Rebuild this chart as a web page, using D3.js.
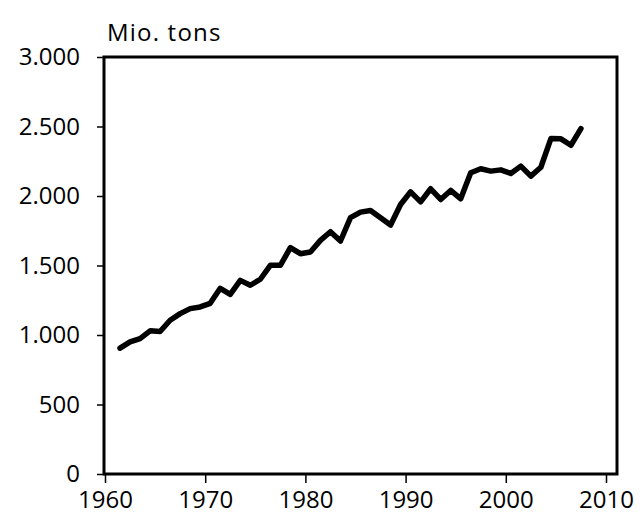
<!DOCTYPE html>
<html>
<head>
<meta charset="utf-8">
<script src="https://cdn.jsdelivr.net/npm/d3@7"></script>
<style>
  body { margin: 0; background: #fff; }
  svg text { font-family: "Open Sans", "Noto Sans", sans-serif; fill: #000; }
</style>
</head>
<body>
<div id="chart"></div>
<script>
// production, Mio. tons, 1961 to 2007
var years = [1961, 1962, 1963, 1964, 1965, 1966, 1967, 1968, 1969, 1970,
             1971, 1972, 1973, 1974, 1975, 1976, 1977, 1978, 1979, 1980,
             1981, 1982, 1983, 1984, 1985, 1986, 1987, 1988, 1989, 1990,
             1991, 1992, 1993, 1994, 1995, 1996, 1997, 1998, 1999, 2000,
             2001, 2002, 2003, 2004, 2005, 2006, 2007];
var values = [905, 950, 974, 1030, 1025, 1106, 1154, 1190, 1202, 1228,
              1336, 1293, 1393, 1358, 1401, 1501, 1501, 1628, 1585, 1597,
              1681, 1743, 1676, 1844, 1884, 1896, 1844, 1791, 1939, 2030,
              1958, 2052, 1975, 2040, 1980, 2167, 2196, 2179, 2188, 2162,
              2215, 2143, 2207, 2413, 2411, 2365, 2485];
var xTicks = [1960, 1970, 1980, 1990, 2000, 2010];
var yTicks = [0, 500, 1000, 1500, 2000, 2500, 3000];
var unitLabel = "Mio. tons";

var data = years.map(function(y, i) { return {year: y, value: values[i]}; });

var W = 644, H = 516;
var margin = {top: 57, left: 105, right: 27, bottom: 42};
var width = W - margin.left - margin.right;
var height = H - margin.top - margin.bottom;

var svg = d3.select('#chart').append('svg')
    .attr('width', W)
    .attr('height', H);

var g = svg.append('g')
    .attr('transform', 'translate(' + margin.left + ',' + margin.top + ')');

var de = d3.formatLocale({decimal: ",", thousands: ".", grouping: [3], currency: ["", " €"]});
var fmt = de.format(",d");

var x = d3.scaleLinear().domain([1960, 2010]).range([0, 501]);
var y = d3.scaleLinear().domain([0, 3000]).range([height, 0]);

// frame
g.append('rect')
    .attr('x', -1)
    .attr('y', 0)
    .attr('width', width + 1)
    .attr('height', height)
    .attr('fill', 'none')
    .attr('stroke', '#000')
    .attr('stroke-width', 3);

// y axis
var yAxis = g.append('g')
    .call(d3.axisLeft(y).tickValues(yTicks).tickSize(8).tickPadding(17).tickFormat(fmt));
yAxis.select('.domain').remove();
yAxis.selectAll('line').attr('stroke', '#000').attr('stroke-width', 1.5);
yAxis.selectAll('text').style('font-size', '24px');

// x axis
var xAxis = g.append('g')
    .attr('transform', 'translate(0,' + height + ')')
    .call(d3.axisBottom(x).tickValues(xTicks).tickSize(9).tickPadding(8).tickFormat(d3.format('d')));
xAxis.select('.domain').remove();
xAxis.selectAll('line').attr('stroke', '#000').attr('stroke-width', 1.5);
xAxis.selectAll('text').style('font-size', '24px');

// unit label
g.append('text')
    .attr('x', 2)
    .attr('y', -16)
    .style('font-size', '24px')
    .style('letter-spacing', '1.2px')
    .text(unitLabel);

// the line, points sit at mid-year
var line = d3.line()
    .x(function(d) { return x(d.year + 0.5); })
    .y(function(d) { return y(d.value); });

g.append('path')
    .datum(data)
    .attr('d', line)
    .attr('fill', 'none')
    .attr('stroke', '#000')
    .attr('stroke-width', 5.5)
    .attr('stroke-linejoin', 'round')
    .attr('stroke-linecap', 'round');
</script>
</body>
</html>
